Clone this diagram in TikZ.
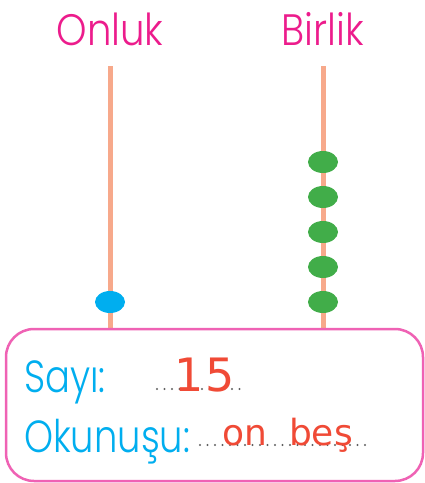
\documentclass[tikz,border=0pt]{standalone}
\usepackage{fontspec}
\setmainfont{Poppins}[UprightFont=* Light]
\newfontfamily\handfont{DejaVu Sans}
\usetikzlibrary{shapes.geometric}
\definecolor{rod}{HTML}{F7A98B}
\definecolor{tealblue}{HTML}{00AEEF}
\definecolor{beadgreen}{HTML}{41AD49}
\definecolor{titlepink}{HTML}{EC1C8C}
\definecolor{boxpink}{HTML}{EF62B4}
\definecolor{handred}{HTML}{F04A36}
\definecolor{dotgray}{HTML}{606060}
\tikzset{
  rodline/.style={draw=rod, line width=5pt},
  bead/.style={ellipse, minimum width=30pt, minimum height=22pt, inner sep=0pt},
  title/.style={text=titlepink, font=\fontsize{44}{44}\selectfont, anchor=base, inner sep=0pt, xscale=0.88, transform shape},
  label/.style={text=tealblue, font=\fontsize{45}{45}\selectfont, anchor=base west, inner sep=0pt, xscale=0.82, transform shape},
  hand/.style={text=handred, font=\handfont\fontsize{36}{36}\selectfont, anchor=base west, inner sep=0pt},
  dotline/.style={draw=dotgray, line width=2.2pt, line cap=round, dash pattern=on 0pt off 7.5pt}
}
\begin{document}
\begin{tikzpicture}[x=1pt,y=-1pt]
\useasboundingbox (0,0) rectangle (425,483);
\coordinate (lt) at (110,66);
\coordinate (lb) at (110,330);
\coordinate (rt) at (323,66);
\coordinate (rb) at (323,330);
\draw[rodline] (lt) -- (lb);
\draw[rodline] (rt) -- (rb);
\node[title] (onluk) at (110,45) {Onluk};
\node[title] (birlik) at (323,45) {Birlik};
\node[bead, fill=tealblue] (b0) at (110,302) {};
\node[bead, fill=beadgreen] (g1) at (323,162) {};
\node[bead, fill=beadgreen] (g2) at (323,197) {};
\node[bead, fill=beadgreen] (g3) at (323,232) {};
\node[bead, fill=beadgreen] (g4) at (323,267) {};
\node[bead, fill=beadgreen] (g5) at (323,302) {};
\draw[draw=boxpink, line width=2.5pt, fill=white, rounded corners=28pt] (6,329) rectangle (423,481);
\node[label] (sayi) at (24,392) {Sayı:};
\node[label] (okunusu) at (24,452) {Okunuşu:};
\coordinate (d1a) at (157,389);
\coordinate (d1b) at (241,389);
\coordinate (d2a) at (200,445);
\coordinate (d2b) at (370,445);
\draw[dotline] (d1a) -- (d1b);
\draw[dotline] (d2a) -- (d2b);
\node[hand, font=\handfont\fontsize{46}{46}\selectfont] (num) at (174,391) {1\hspace{2pt}5};
\node[hand] (word) at (222,445) {on\hspace{22pt}beş};
\end{tikzpicture}
\end{document}
